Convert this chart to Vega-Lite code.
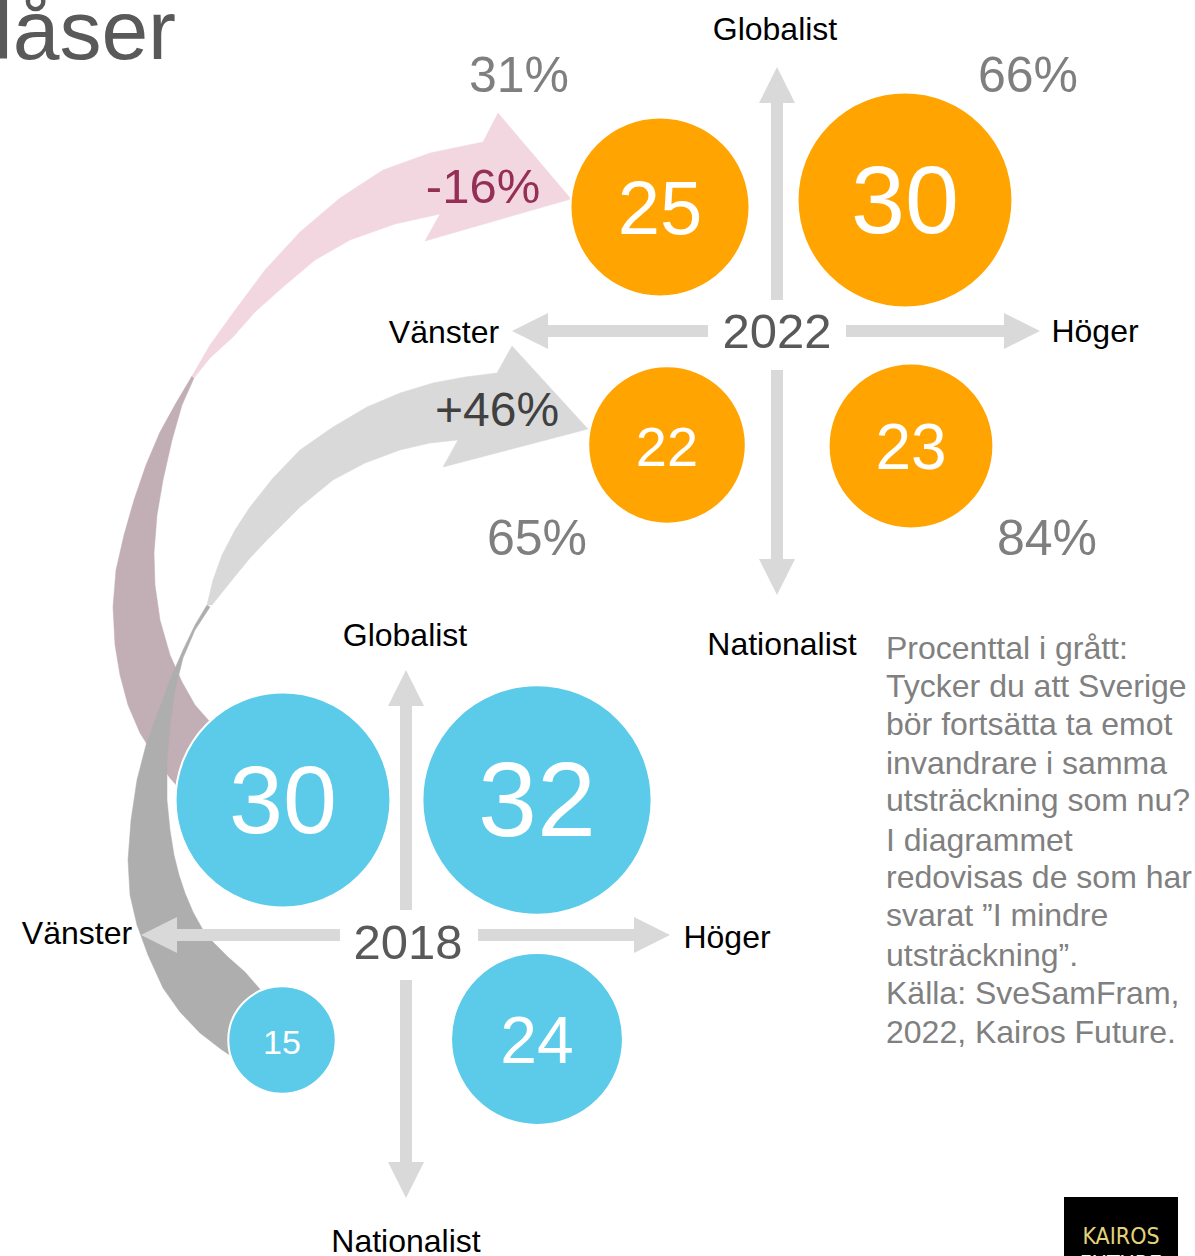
{
 "$schema": "https://vega.github.io/schema/vega-lite/v6.json",
 "width": 1195, "height": 1256, "padding": 0, "autosize": {"type": "none"},
 "background": "white",
 "config": {"view": {"stroke": null}, "text": {"font": "Liberation Sans"}},
 "datasets": {
  "polys": [
   {"part":"pinkBack","i":0,"x":192,"y":376},{"part":"pinkBack","i":1,"x":176,"y":403},{"part":"pinkBack","i":2,"x":160,"y":432},{"part":"pinkBack","i":3,"x":146,"y":465},{"part":"pinkBack","i":4,"x":134,"y":500},{"part":"pinkBack","i":5,"x":124,"y":535},{"part":"pinkBack","i":6,"x":116,"y":570},{"part":"pinkBack","i":7,"x":113,"y":607},{"part":"pinkBack","i":8,"x":115,"y":645},{"part":"pinkBack","i":9,"x":120,"y":675},{"part":"pinkBack","i":10,"x":128,"y":705},{"part":"pinkBack","i":11,"x":140,"y":733},{"part":"pinkBack","i":12,"x":155,"y":757},{"part":"pinkBack","i":13,"x":170,"y":778},{"part":"pinkBack","i":14,"x":185,"y":795},{"part":"pinkBack","i":15,"x":200,"y":810},{"part":"pinkBack","i":16,"x":240,"y":790},{"part":"pinkBack","i":17,"x":225,"y":735},{"part":"pinkBack","i":18,"x":210,"y":722},{"part":"pinkBack","i":19,"x":195,"y":705},{"part":"pinkBack","i":20,"x":182,"y":682},{"part":"pinkBack","i":21,"x":170,"y":655},{"part":"pinkBack","i":22,"x":160,"y":620},{"part":"pinkBack","i":23,"x":155,"y":585},{"part":"pinkBack","i":24,"x":154,"y":553},{"part":"pinkBack","i":25,"x":157,"y":515},{"part":"pinkBack","i":26,"x":163,"y":480},{"part":"pinkBack","i":27,"x":172,"y":440},{"part":"pinkBack","i":28,"x":182,"y":405},{"part":"pinkBack","i":29,"x":194,"y":378},
   {"part":"grayBack","i":0,"x":207,"y":605},{"part":"grayBack","i":1,"x":195,"y":625},{"part":"grayBack","i":2,"x":183,"y":650},{"part":"grayBack","i":3,"x":170,"y":680},{"part":"grayBack","i":4,"x":158,"y":712},{"part":"grayBack","i":5,"x":146,"y":745},{"part":"grayBack","i":6,"x":137,"y":780},{"part":"grayBack","i":7,"x":131,"y":820},{"part":"grayBack","i":8,"x":128,"y":860},{"part":"grayBack","i":9,"x":130,"y":895},{"part":"grayBack","i":10,"x":137,"y":925},{"part":"grayBack","i":11,"x":148,"y":955},{"part":"grayBack","i":12,"x":163,"y":988},{"part":"grayBack","i":13,"x":180,"y":1012},{"part":"grayBack","i":14,"x":200,"y":1033},{"part":"grayBack","i":15,"x":222,"y":1050},{"part":"grayBack","i":16,"x":242,"y":1063},{"part":"grayBack","i":17,"x":262,"y":1040},{"part":"grayBack","i":18,"x":265,"y":995},{"part":"grayBack","i":19,"x":245,"y":972},{"part":"grayBack","i":20,"x":228,"y":957},{"part":"grayBack","i":21,"x":213,"y":942},{"part":"grayBack","i":22,"x":203,"y":930},{"part":"grayBack","i":23,"x":193,"y":912},{"part":"grayBack","i":24,"x":185,"y":893},{"part":"grayBack","i":25,"x":179,"y":875},{"part":"grayBack","i":26,"x":174,"y":855},{"part":"grayBack","i":27,"x":170,"y":830},{"part":"grayBack","i":28,"x":167,"y":800},{"part":"grayBack","i":29,"x":167,"y":760},{"part":"grayBack","i":30,"x":170,"y":725},{"part":"grayBack","i":31,"x":175,"y":690},{"part":"grayBack","i":32,"x":183,"y":658},{"part":"grayBack","i":33,"x":195,"y":630},{"part":"grayBack","i":34,"x":210,"y":607},
   {"part":"pinkFront","i":0,"x":192,"y":376},{"part":"pinkFront","i":1,"x":210,"y":345},{"part":"pinkFront","i":2,"x":233,"y":313},{"part":"pinkFront","i":3,"x":265,"y":270},{"part":"pinkFront","i":4,"x":300,"y":232},{"part":"pinkFront","i":5,"x":340,"y":198},{"part":"pinkFront","i":6,"x":383,"y":170},{"part":"pinkFront","i":7,"x":430,"y":153},{"part":"pinkFront","i":8,"x":483,"y":142},{"part":"pinkFront","i":9,"x":498,"y":113},{"part":"pinkFront","i":10,"x":571,"y":199},{"part":"pinkFront","i":11,"x":425,"y":241},{"part":"pinkFront","i":12,"x":440,"y":214},{"part":"pinkFront","i":13,"x":395,"y":224},{"part":"pinkFront","i":14,"x":350,"y":240},{"part":"pinkFront","i":15,"x":315,"y":260},{"part":"pinkFront","i":16,"x":283,"y":287},{"part":"pinkFront","i":17,"x":255,"y":312},{"part":"pinkFront","i":18,"x":233,"y":337},{"part":"pinkFront","i":19,"x":210,"y":358},{"part":"pinkFront","i":20,"x":194,"y":378},
   {"part":"grayFront","i":0,"x":207,"y":605},{"part":"grayFront","i":1,"x":213,"y":580},{"part":"grayFront","i":2,"x":222,"y":555},{"part":"grayFront","i":3,"x":235,"y":530},{"part":"grayFront","i":4,"x":250,"y":507},{"part":"grayFront","i":5,"x":273,"y":478},{"part":"grayFront","i":6,"x":300,"y":450},{"part":"grayFront","i":7,"x":333,"y":427},{"part":"grayFront","i":8,"x":367,"y":407},{"part":"grayFront","i":9,"x":400,"y":393},{"part":"grayFront","i":10,"x":433,"y":383},{"part":"grayFront","i":11,"x":465,"y":377},{"part":"grayFront","i":12,"x":497,"y":373},{"part":"grayFront","i":13,"x":512,"y":346},{"part":"grayFront","i":14,"x":588,"y":429},{"part":"grayFront","i":15,"x":443,"y":467},{"part":"grayFront","i":16,"x":458,"y":440},{"part":"grayFront","i":17,"x":430,"y":443},{"part":"grayFront","i":18,"x":400,"y":450},{"part":"grayFront","i":19,"x":365,"y":463},{"part":"grayFront","i":20,"x":333,"y":480},{"part":"grayFront","i":21,"x":300,"y":507},{"part":"grayFront","i":22,"x":267,"y":540},{"part":"grayFront","i":23,"x":250,"y":558},{"part":"grayFront","i":24,"x":232,"y":580},{"part":"grayFront","i":25,"x":212,"y":605}
  ],
  "shafts": [
   {"x":777,"y":102,"x2":777,"y2":300},{"x":777,"y":370,"x2":777,"y2":560},{"x":548,"y":331,"x2":708,"y2":331},{"x":846,"y":331,"x2":1005,"y2":331},
   {"x":406,"y":706,"x2":406,"y2":910},{"x":406,"y":980,"x2":406,"y2":1163},{"x":176,"y":935,"x2":340,"y2":935},{"x":478,"y":935,"x2":635,"y2":935}
  ],
  "heads": [
   {"dir":"up","x":777,"y":85},{"dir":"down","x":777,"y":577},{"dir":"left","x":530,"y":331},{"dir":"right","x":1022,"y":331},
   {"dir":"up","x":406,"y":688},{"dir":"down","x":406,"y":1180},{"dir":"left","x":159,"y":935},{"dir":"right","x":652,"y":935}
  ],
  "bubbles": [
   {"year":"2022","value":25,"x":660,"y":207},{"year":"2022","value":30,"x":905,"y":200},{"year":"2022","value":22,"x":667,"y":445},{"year":"2022","value":23,"x":911,"y":446},
   {"year":"2018","value":30,"x":283,"y":800},{"year":"2018","value":32,"x":537,"y":800},{"year":"2018","value":15,"x":282,"y":1040},{"year":"2018","value":24,"x":537,"y":1039}
  ],
  "labels": [
   {"kind":"axis","t":"Globalist","x":775,"y":40},{"kind":"axis","t":"Vänster","x":444,"y":343},{"kind":"axis","t":"Höger","x":1095,"y":342},{"kind":"axis","t":"Nationalist","x":782,"y":655},
   {"kind":"axis","t":"Globalist","x":405,"y":646},{"kind":"axis","t":"Vänster","x":77,"y":944},{"kind":"axis","t":"Höger","x":727,"y":948},{"kind":"axis","t":"Nationalist","x":406,"y":1252},
   {"kind":"year","t":"2022","x":777,"y":348},{"kind":"year","t":"2018","x":408,"y":959},
   {"kind":"pct","t":"31%","x":519,"y":92},{"kind":"pct","t":"66%","x":1028,"y":92},{"kind":"pct","t":"65%","x":537,"y":555},{"kind":"pct","t":"84%","x":1047,"y":555},
   {"kind":"neg","t":"-16%","x":483,"y":203},{"kind":"pos","t":"+46%","x":497,"y":426},
   {"kind":"title","t":"låser","x":-6,"y":59},{"kind":"page","t":"20","x":1000,"y":1277},
   {"kind":"logo1","t":"KAIROS","x":1121,"y":1244},{"kind":"logo2","t":"FUTURE","x":1121,"y":1272}
  ],
  "para": [
   {"t":"Procenttal i grått:","x":886,"y":659},
   {"t":"Tycker du att Sverige","x":886,"y":697},
   {"t":"bör fortsätta ta emot","x":886,"y":735},
   {"t":"invandrare i samma","x":886,"y":774},
   {"t":"utsträckning som nu?","x":886,"y":811},
   {"t":"I diagrammet","x":886,"y":851},
   {"t":"redovisas de som har","x":886,"y":888},
   {"t":"svarat ”I mindre","x":886,"y":926},
   {"t":"utsträckning”.","x":886,"y":966},
   {"t":"Källa: SveSamFram,","x":886,"y":1004},
   {"t":"2022, Kairos Future.","x":886,"y":1043}
  ],
  "logo": [{"x":1064,"y":1197,"x2":1178,"y2":1256}]
 },
 "encoding": {
  "x": {"field":"x","type":"quantitative","scale":{"domain":[0,1195],"nice":false,"zero":false},"axis":null},
  "y": {"field":"y","type":"quantitative","scale":{"domain":[0,1256],"nice":false,"zero":false,"reverse":true},"axis":null}
 },
 "layer": [
  {"data":{"name":"polys"},"transform":[{"filter":"datum.part==='pinkBack'"}],"mark":{"type":"line","interpolate":"linear-closed","fill":"#C2AEB5","stroke":"#C2AEB5","strokeWidth":0.5},"encoding":{"order":{"field":"i","type":"quantitative"}}},
  {"data":{"name":"polys"},"transform":[{"filter":"datum.part==='grayBack'"}],"mark":{"type":"line","interpolate":"linear-closed","fill":"#AEAEAE","stroke":"#AEAEAE","strokeWidth":0.5},"encoding":{"order":{"field":"i","type":"quantitative"}}},
  {"data":{"name":"polys"},"transform":[{"filter":"datum.part==='pinkFront'"}],"mark":{"type":"line","interpolate":"linear-closed","fill":"#F2D7E0","stroke":"#F2D7E0","strokeWidth":0.5},"encoding":{"order":{"field":"i","type":"quantitative"}}},
  {"data":{"name":"polys"},"transform":[{"filter":"datum.part==='grayFront'"}],"mark":{"type":"line","interpolate":"linear-closed","fill":"#D9D9D9","stroke":"#D9D9D9","strokeWidth":0.5},"encoding":{"order":{"field":"i","type":"quantitative"}}},
  {"data":{"name":"shafts"},"mark":{"type":"rule","color":"#D9D9D9","strokeWidth":12,"strokeCap":"butt"},"encoding":{"x2":{"field":"x2"},"y2":{"field":"y2"}}},
  {"data":{"name":"heads"},"mark":{"type":"point","filled":true,"size":1296,"color":"#D9D9D9","opacity":1,"strokeWidth":0},"encoding":{"shape":{"field":"dir","type":"nominal","scale":{"domain":["up","down","left","right"],"range":["M0,-1L1,1L-1,1Z","M0,1L1,-1L-1,-1Z","M-1,0L1,-1L1,1Z","M1,0L-1,-1L-1,1Z"]},"legend":null}}},
  {"data":{"name":"bubbles"},"mark":{"type":"point","filled":true,"opacity":1,"shape":"circle","stroke":"white","strokeWidth":2},"encoding":{"size":{"field":"value","type":"quantitative","scale":{"type":"pow","exponent":2,"domain":[0,40],"range":[0,82080]},"legend":null},"color":{"field":"year","type":"nominal","scale":{"domain":["2022","2018"],"range":["#FFA400","#5BCBE9"]},"legend":null}}},
  {"data":{"name":"bubbles"},"mark":{"type":"text","color":"white","align":"center","baseline":"middle","dy":4},"encoding":{"text":{"field":"value","type":"nominal"},"size":{"field":"value","type":"quantitative","scale":{"type":"linear","zero":false,"domain":[15,22,23,24,25,30,32],"range":[34,56,64,66,76,97,106]},"legend":null}}},
  {"data":{"name":"labels"},"transform":[{"filter":"datum.kind==='axis'"}],"mark":{"type":"text","color":"#000000","fontSize":32,"align":"center","baseline":"alphabetic"},"encoding":{"text":{"field":"t"}}},
  {"data":{"name":"labels"},"transform":[{"filter":"datum.kind==='year'"}],"mark":{"type":"text","color":"#595959","fontSize":49,"align":"center","baseline":"alphabetic"},"encoding":{"text":{"field":"t"}}},
  {"data":{"name":"labels"},"transform":[{"filter":"datum.kind==='pct'"}],"mark":{"type":"text","color":"#7F7F7F","fontSize":50,"align":"center","baseline":"alphabetic"},"encoding":{"text":{"field":"t"}}},
  {"data":{"name":"labels"},"transform":[{"filter":"datum.kind==='neg'"}],"mark":{"type":"text","color":"#952F55","fontSize":49,"align":"center","baseline":"alphabetic"},"encoding":{"text":{"field":"t"}}},
  {"data":{"name":"labels"},"transform":[{"filter":"datum.kind==='pos'"}],"mark":{"type":"text","color":"#404040","fontSize":48,"align":"center","baseline":"alphabetic"},"encoding":{"text":{"field":"t"}}},
  {"data":{"name":"labels"},"transform":[{"filter":"datum.kind==='title'"}],"mark":{"type":"text","color":"#595959","fontSize":84,"align":"left","baseline":"alphabetic"},"encoding":{"text":{"field":"t"}}},
  {"data":{"name":"labels"},"transform":[{"filter":"datum.kind==='page'"}],"mark":{"type":"text","color":"#595959","fontSize":30,"align":"center","baseline":"alphabetic"},"encoding":{"text":{"field":"t"}}},
  {"data":{"name":"para"},"mark":{"type":"text","color":"#808080","fontSize":32,"align":"left","baseline":"alphabetic"},"encoding":{"text":{"field":"t"}}},
  {"data":{"name":"logo"},"mark":{"type":"rect","color":"#000000"},"encoding":{"x2":{"field":"x2"},"y2":{"field":"y2"}}},
  {"data":{"name":"labels"},"transform":[{"filter":"datum.kind==='logo1'"}],"mark":{"type":"text","color":"#E2D27A","fontSize":23,"font":"DejaVu Sans Condensed, DejaVu Sans, sans-serif","align":"center","baseline":"alphabetic"},"encoding":{"text":{"field":"t"}}},
  {"data":{"name":"labels"},"transform":[{"filter":"datum.kind==='logo2'"}],"mark":{"type":"text","color":"#FFFFFF","fontSize":23,"font":"DejaVu Sans Condensed, DejaVu Sans, sans-serif","align":"center","baseline":"alphabetic"},"encoding":{"text":{"field":"t"}}}
 ],
 "resolve": {"scale": {"size": "independent"}}
}
